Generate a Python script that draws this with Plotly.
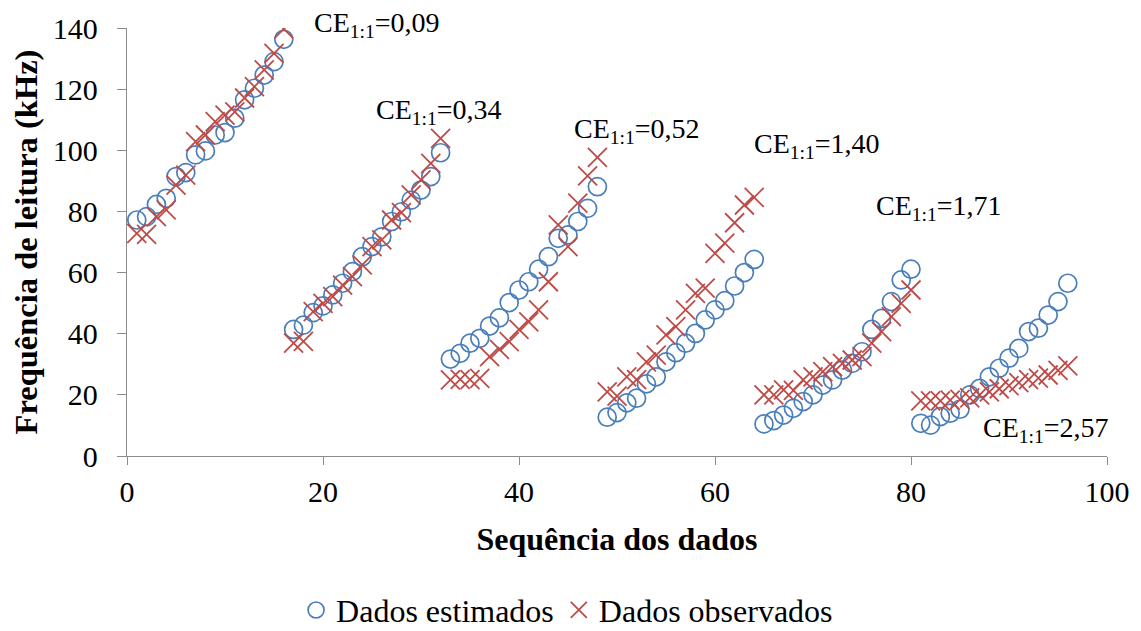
import plotly.graph_objects as go

# ---------------- data ----------------
x_seq = list(range(1, 97))

estimados = [
    77.2, 78.3, 82.3, 84.3, 91.4, 92.7, 98.5, 99.8, 105.0, 105.8, 110.5, 116.5, 120.3, 124.6, 129.0, 136.3,
    41.4, 42.8, 46.9, 49.1, 52.7, 56.5, 60.3, 65.2, 68.5, 71.7, 76.7, 79.9, 83.7, 87.0, 91.4, 99.2,
    31.7, 33.6, 36.9, 38.5, 42.5, 45.2, 50.2, 54.3, 57.0, 61.1, 65.2, 71.2, 72.3, 76.7, 81.0, 88.1,
    12.7, 14.2, 17.4, 18.9, 23.6, 25.9, 30.8, 33.8, 36.9, 40.1, 44.5, 47.8, 50.8, 55.6, 60.0, 64.3,
    10.5, 11.6, 13.4, 15.6, 17.8, 20.0, 23.2, 24.9, 28.1, 30.3, 34.1, 41.4, 45.0, 50.5, 57.6, 61.1,
    10.7, 10.1, 12.9, 14.0, 15.3, 20.0, 22.1, 25.9, 28.7, 32.0, 35.2, 40.7, 41.8, 46.1, 50.5, 56.5,
]

observados = [
    72.8, 72.5, 78.3, 80.5, 88.6, 91.9, 102.8, 105.0, 109.4, 111.5, 112.6, 117.1, 120.8, 126.3, 131.7, 139.7,
    36.9, 37.5, 47.2, 49.9, 52.1, 55.9, 58.7, 62.5, 68.5, 70.7, 77.2, 79.6, 85.4, 90.3, 95.7, 103.9,
    24.9, 25.1, 25.0, 25.4, 32.5, 34.9, 37.4, 41.4, 43.9, 47.8, 57.0, 75.6, 68.5, 82.7, 91.6, 97.7,
    21.0, 19.6, 25.9, 25.0, 30.8, 33.0, 39.6, 42.3, 47.8, 53.2, 54.9, 66.3, 69.6, 76.3, 82.1, 84.6,
    20.0, 20.0, 21.6, 21.5, 24.9, 25.9, 27.6, 29.2, 30.3, 31.4, 32.5, 36.9, 40.7, 45.6, 49.9, 54.3,
    18.0, 18.0, 18.0, 18.3, 18.5, 19.0, 20.0, 21.0, 22.0, 23.0, 24.0, 25.0, 25.5, 26.5, 28.0, 29.5,
]

ce_labels = ["0,09", "0,34", "0,52", "1,40", "1,71", "2,57"]

x_ticks = [0, 20, 40, 60, 80, 100]
y_ticks = [0, 20, 40, 60, 80, 100, 120, 140]

# ---------------- styling ----------------
BLUE = "#4A7EBB"
RED = "#BE4B48"
AXIS = "#8C8C8C"
FONT = "Liberation Serif"

# annotation anchor points (data coordinates) and vertical pixel shifts
ce_pos = [(25.5, 140.0, 4), (31.8, 112.8, 0), (52.0, 106.4, 0),
          (70.4, 101.5, 0), (82.9, 81.3, 0), (93.8, 8.6, 0)]

fig = go.Figure()
fig.add_trace(go.Scatter(
    x=x_seq, y=estimados, mode="markers", name="Dados estimados",
    marker=dict(symbol="circle-open", size=18, color=BLUE, line=dict(width=1.7, color=BLUE)),
))
fig.add_trace(go.Scatter(
    x=x_seq, y=observados, mode="markers", name="Dados observados",
    marker=dict(symbol="x-thin-open", size=19, color=RED, line=dict(width=1.8, color=RED)),
))

for lab, (px, py, ys) in zip(ce_labels, ce_pos):
    fig.add_annotation(
        x=px, y=py, xref="x", yref="y", showarrow=False,
        text=f"CE<sub>1:1</sub>={lab}",
        font=dict(family=FONT, size=28, color="black"),
        xanchor="center", yanchor="middle", yshift=ys,
    )

fig.update_layout(
    width=1141, height=631,
    margin=dict(l=127, r=34, t=28, b=175, autoexpand=False),
    paper_bgcolor="white", plot_bgcolor="white",
    font=dict(family=FONT, size=30, color="black"),
    showlegend=True,
    legend=dict(
        orientation="h", xref="container", yref="container",
        x=0.497, xanchor="center", y=0.033, yanchor="middle",
        font=dict(family=FONT, size=32, color="black"),
        itemwidth=30, bgcolor="rgba(0,0,0,0)",
    ),
    xaxis=dict(
        range=[0, 100], tickvals=x_ticks, ticktext=[str(v) for v in x_ticks],
        showline=True, linecolor=AXIS, linewidth=1.3,
        ticks="outside", ticklen=8, tickcolor=AXIS, tickwidth=1.3,
        showgrid=False, zeroline=False, automargin=False,
        tickfont=dict(family=FONT, size=30, color="black"),
        ticklabelstandoff=1,
        title=dict(text="<b>Sequência dos dados</b>",
                   font=dict(family=FONT, size=32, color="black"), standoff=20),
    ),
    yaxis=dict(
        range=[0, 140], tickvals=y_ticks, ticktext=[str(v) for v in y_ticks],
        showline=True, linecolor=AXIS, linewidth=1.3,
        ticks="outside", ticklen=9, tickcolor=AXIS, tickwidth=1.3,
        showgrid=False, zeroline=False, automargin=False,
        tickfont=dict(family=FONT, size=30, color="black"),
        ticklabelstandoff=13,
        title=dict(text="<b>Frequência de leitura (kHz)</b>",
                   font=dict(family=FONT, size=32.5, color="black"), standoff=5),
    ),
)

fig.write_html(
    "out.html",
    config={"displayModeBar": False},
    post_script="document.body.style.margin='0px';document.body.style.overflow='hidden';",
)
